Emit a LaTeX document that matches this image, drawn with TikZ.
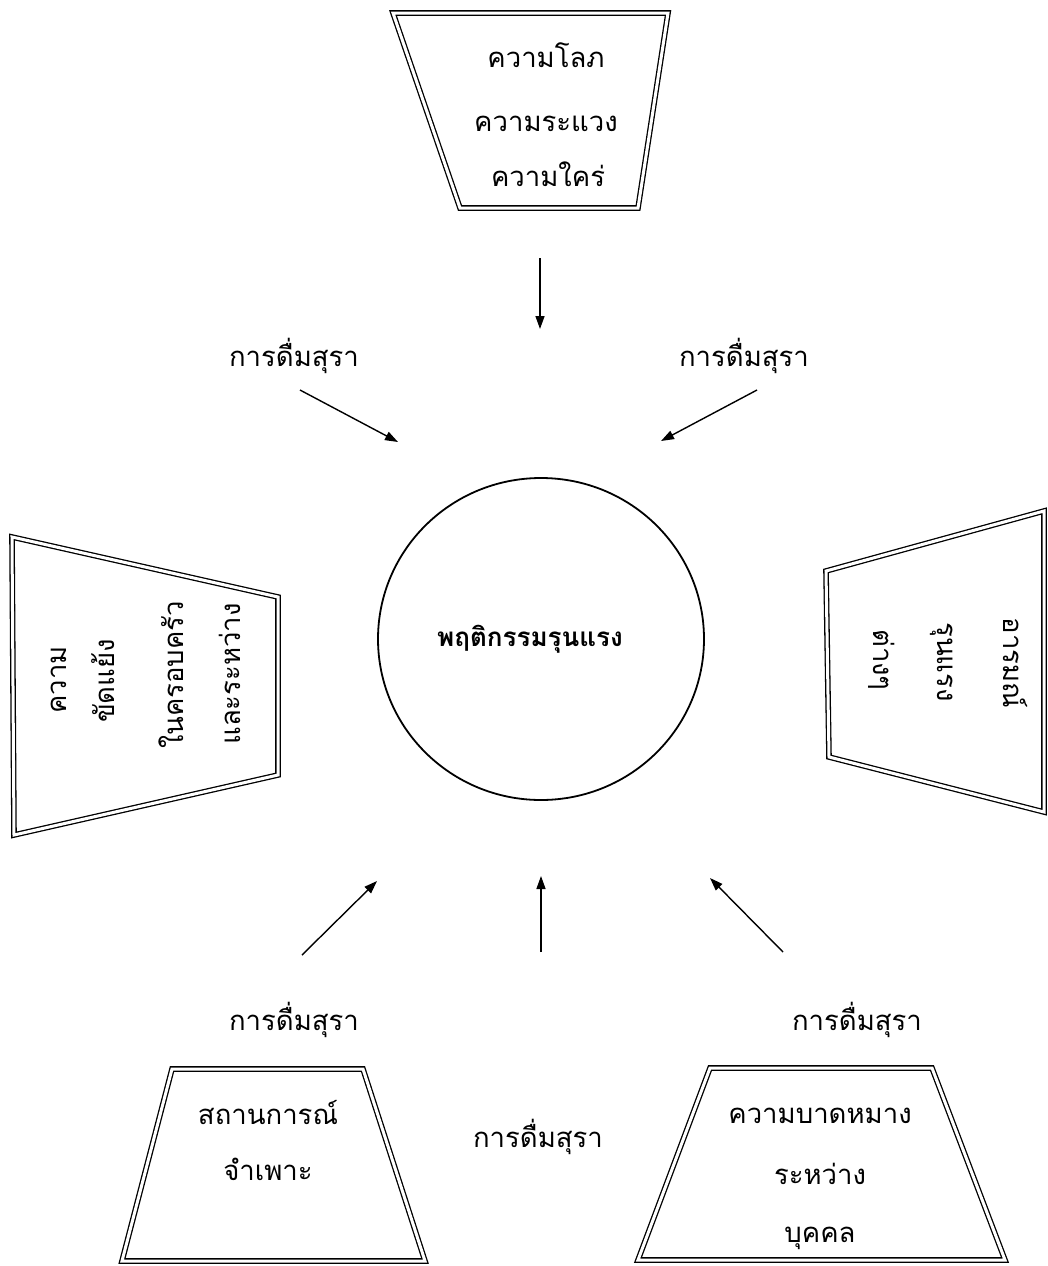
\documentclass[tikz,border=0pt]{standalone}
\usepackage{fontspec}
\newfontfamily\thai[Script=Thai]{Loma}
\usetikzlibrary{arrows.meta}
\begin{document}
\begin{tikzpicture}[x=1pt,y=-1pt,
  box/.style={draw=black, line width=1.3pt, double=white, double distance=3pt, line join=miter},
  txt/.style={font=\thai\fontsize{27.5}{32}\selectfont, inner sep=0pt},
  btxt/.style={font=\thai\bfseries\fontsize{26}{31}\selectfont, inner sep=0pt},
  arr/.style={line width=1.4pt, -{Triangle[length=13pt,width=9pt]}},
  ring/.style={draw=black, line width=1.8pt}]
\useasboundingbox (0,0) rectangle (1048,1266);
\fill[white] (0,0) rectangle (1048,1266);

% top trapezoid
\coordinate (tA) at (393,13);
\coordinate (tB) at (668,13);
\coordinate (tC) at (638,208);
\coordinate (tD) at (460,208);
\draw[box] (tA)--(tB)--(tC)--(tD)--cycle;
\node[txt, anchor=base] (t1) at (546,67) {ความโลภ};
\node[txt, anchor=base] (t2) at (546,131) {ความระแวง};
\node[txt, anchor=base] (t3) at (548,186) {ความใคร่};

% left trapezoid
\coordinate (lA) at (12,537);
\coordinate (lB) at (278,597);
\coordinate (lC) at (278,775);
\coordinate (lD) at (14,835);
\draw[box] (lA)--(lB)--(lC)--(lD)--cycle;
\node[txt, anchor=mid, rotate=90] (l1) at (64,680) {ความ};
\node[txt, anchor=mid, rotate=90] (l2) at (112,681) {ขัดแย้ง};
\node[txt, anchor=mid, rotate=90] (l3) at (181,675) {ในครอบครัว};
\node[txt, anchor=mid, rotate=90] (l4) at (238,674) {และระหว่าง};

% right trapezoid
\coordinate (rA) at (826,571);
\coordinate (rB) at (1044,511);
\coordinate (rC) at (1044,812);
\coordinate (rD) at (829,757);
\draw[box] (rA)--(rB)--(rC)--(rD)--cycle;
\node[txt, anchor=mid, rotate=-90] (r1) at (1006,663) {อารมณ์};
\node[txt, anchor=mid, rotate=-90] (r2) at (940,662) {รุนแรง};
\node[txt, anchor=mid, rotate=-90] (r3) at (876,660) {ต่างๆ};

% bottom-left trapezoid
\coordinate (bA) at (172,1069);
\coordinate (bB) at (363,1069);
\coordinate (bC) at (425,1261);
\coordinate (bD) at (122,1261);
\draw[box] (bA)--(bB)--(bC)--(bD)--cycle;
\node[txt, anchor=base] (b1) at (268,1124) {สถานการณ์};
\node[txt, anchor=base] (b2) at (268,1180) {จำเพาะ};

% bottom-right trapezoid
\coordinate (cA) at (710,1068);
\coordinate (cB) at (932,1068);
\coordinate (cC) at (1005,1260);
\coordinate (cD) at (638,1260);
\draw[box] (cA)--(cB)--(cC)--(cD)--cycle;
\node[txt, anchor=base] (c1) at (820,1123) {ความบาดหมาง};
\node[txt, anchor=base] (c2) at (820,1184) {ระหว่าง};
\node[txt, anchor=base] (c3) at (820,1242) {บุคคล};

% central circle
\coordinate (core) at (541,639);
\draw[ring] (core) ellipse [x radius=163, y radius=161];
\node[btxt, anchor=base] (coretxt) at (530,646) {พฤติกรรมรุนแรง};

% labels
\node[txt, anchor=base] (d1) at (294,366) {การดื่มสุรา};
\node[txt, anchor=base] (d2) at (744,366) {การดื่มสุรา};
\node[txt, anchor=base] (d3) at (294,1030) {การดื่มสุรา};
\node[txt, anchor=base] (d4) at (857,1030) {การดื่มสุรา};
\node[txt, anchor=base] (d5) at (538,1147) {การดื่มสุรา};

% arrow ends
\coordinate (a0s) at (540,258); \coordinate (a0e) at (540,329);
\coordinate (a1s) at (300,390); \coordinate (a1e) at (398,442);
\coordinate (a2s) at (757,390); \coordinate (a2e) at (661,441);
\coordinate (a3s) at (302,955); \coordinate (a3e) at (377,881);
\coordinate (a4s) at (541,952); \coordinate (a4e) at (541,876);
\coordinate (a5s) at (783,952); \coordinate (a5e) at (710,878);
\draw[arr] (a0s) -- (a0e);
\draw[arr] (a1s) -- (a1e);
\draw[arr] (a2s) -- (a2e);
\draw[arr] (a3s) -- (a3e);
\draw[arr] (a4s) -- (a4e);
\draw[arr] (a5s) -- (a5e);
\end{tikzpicture}
\end{document}
